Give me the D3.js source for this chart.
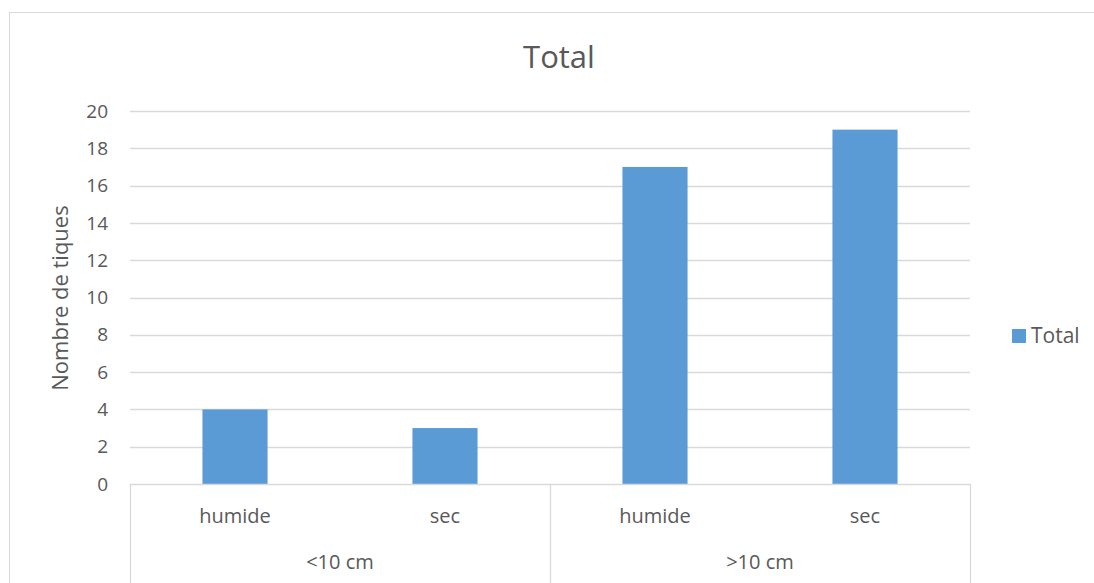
<!DOCTYPE html>
<html><head><meta charset="utf-8">
<script src="https://cdn.jsdelivr.net/npm/d3@7"></script>
<style>body{margin:0;background:#fff}svg{display:block;font-family:"Open Sans","Liberation Sans",sans-serif}</style>
</head><body><svg id="c" width="1094" height="583"></svg>
<script>
const groups = ["<10 cm", ">10 cm"];
const subCats = ["humide", "sec", "humide", "sec"];
const groupOf = [0, 0, 1, 1];
const values = [4, 3, 17, 19];
const yTicks = [0, 2, 4, 6, 8, 10, 12, 14, 16, 18, 20];
const seriesName = "Total";

const svg = d3.select("#c");
const L = 130, R = 970, T = 111, B = 484;
const txt = "#595959", grid = "#d9d9d9", barC = "#5b9bd5";

svg.append("rect").attr("x", 9.5).attr("y", 12.5).attr("width", 1100).attr("height", 600)
  .attr("fill", "#fff").attr("stroke", grid);

const y = d3.scaleLinear().domain([0, 20]).range([B, T]);
const x = d3.scaleBand().domain(d3.range(subCats.length)).range([L, R]).paddingInner(0.69).paddingOuter(0.345);
const xg = d3.scaleBand().domain(d3.range(groups.length)).range([L, R]);

// gridlines
svg.append("g").selectAll("line").data(yTicks.filter(d => d > 0)).join("line")
  .attr("x1", L).attr("x2", R).attr("y1", d => Math.round(y(d)) + 0.5).attr("y2", d => Math.round(y(d)) + 0.5)
  .attr("stroke", grid).attr("stroke-width", 1.3);

// y labels
svg.append("g").selectAll("text").data(yTicks).join("text")
  .attr("x", 108).attr("y", d => y(d)).attr("dy", "0.35em").attr("text-anchor", "end")
  .attr("fill", txt).style("font-size", "19px").text(d => d);

// bars
svg.append("g").selectAll("rect").data(values).join("rect")
  .attr("x", (d, i) => x(i)).attr("width", x.bandwidth())
  .attr("y", d => y(d)).attr("height", d => y(0) - y(d)).attr("fill", barC);

// category axis
svg.append("line").attr("x1", L).attr("x2", R).attr("y1", B + 0.5).attr("y2", B + 0.5).attr("stroke", grid).attr("stroke-width", 1.3);
const dividers = [L, ...groups.map((g, i) => xg(i) + xg.bandwidth())];
svg.append("g").selectAll("line").data(dividers).join("line")
  .attr("x1", d => d + 0.5).attr("x2", d => d + 0.5).attr("y1", B).attr("y2", 583)
  .attr("stroke", grid).attr("stroke-width", 1.3);

svg.append("g").selectAll("text").data(subCats).join("text")
  .attr("x", (d, i) => x(i) + x.bandwidth() / 2).attr("y", 523).attr("text-anchor", "middle")
  .attr("fill", txt).style("font-size", "20px").text(d => d);
svg.append("g").selectAll("text").data(groups).join("text")
  .attr("x", (d, i) => xg(i) + xg.bandwidth() / 2).attr("y", 569).attr("text-anchor", "middle")
  .attr("fill", txt).style("font-size", "20px").text(d => d);

// title
svg.append("text").attr("x", 559).attr("y", 68).attr("text-anchor", "middle")
  .attr("fill", txt).style("font-size", "31px").text("Total");

// y axis title
svg.append("text").attr("transform", "translate(68,298) rotate(-90)").attr("text-anchor", "middle")
  .attr("fill", txt).style("font-size", "22px").text("Nombre de tiques");

// legend
svg.append("rect").attr("x", 1012).attr("y", 329).attr("width", 14).attr("height", 14).attr("fill", barC);
svg.append("text").attr("x", 1031).attr("y", 336).attr("dy", "0.35em").attr("fill", txt)
  .style("font-size", "21px").text(seriesName);
</script></body></html>
